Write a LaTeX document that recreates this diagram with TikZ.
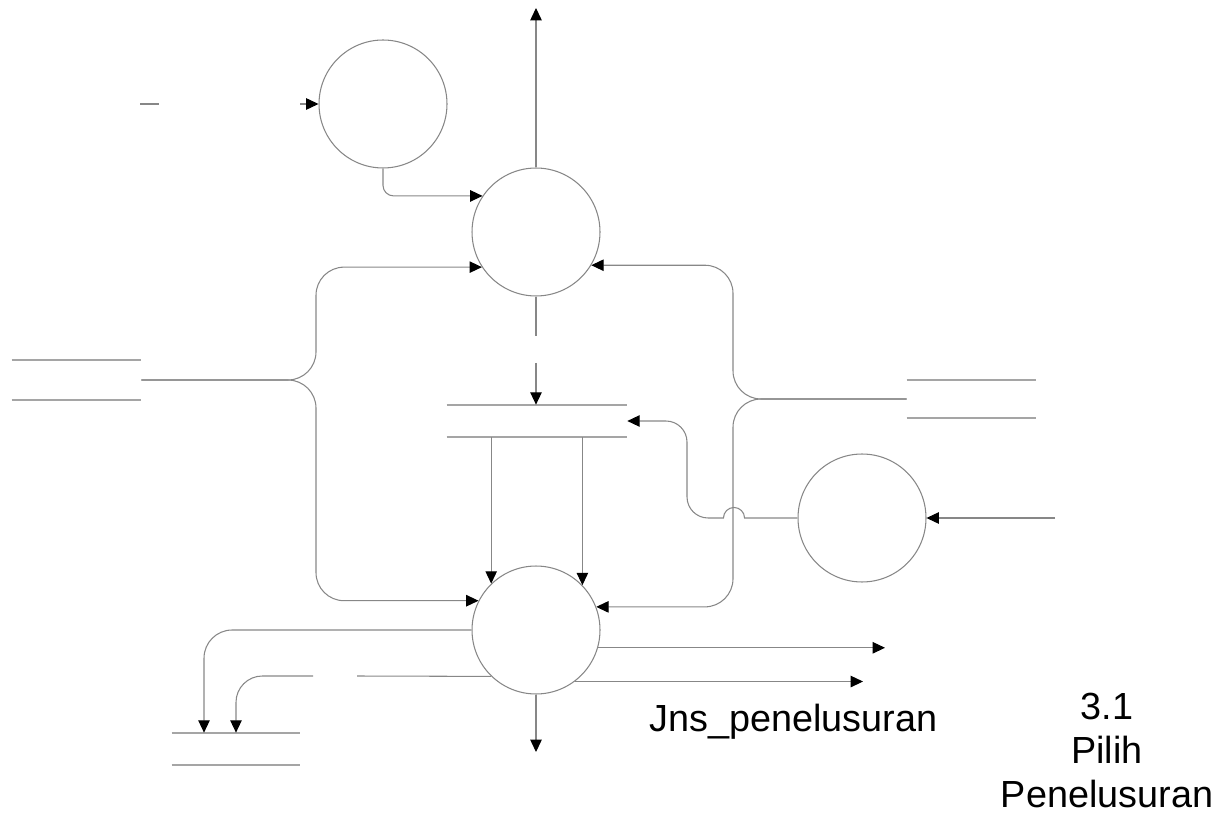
\documentclass[tikz,border=0pt]{standalone}
\usepackage{fontspec}
\setmainfont{Liberation Sans}
\usepackage{tikz}
\usetikzlibrary{arrows.meta, positioning}
\definecolor{linegray}{RGB}{135,135,135}
\definecolor{storegray}{RGB}{165,165,165}

\tikzset{
  proc/.style={circle, draw=linegray, line width=0.6pt, minimum size=2.56cm, inner sep=0pt},
  storeline/.style={draw=storegray, line width=1pt},
  store/.style={rectangle, inner sep=0pt, minimum width=2.58cm,
    append after command={(\tikzlastnode.north west) edge[storeline] (\tikzlastnode.north east)
                          (\tikzlastnode.south west) edge[storeline] (\tikzlastnode.south east)}},
  link/.style={draw=linegray, line width=0.6pt},
  flow/.style={link, -{Triangle[length=7pt, width=6.5pt, color=black]}},
  lbl/.style={inner sep=0pt, font=\fontsize{21.5}{24.9}\selectfont}
}

\begin{document}
\begin{tikzpicture}[x=0.02cm, y=-0.02cm]
\useasboundingbox (0,0) rectangle (1216,837);

% processes
\node[proc] (pCari)   at (383,104) {};
\node[proc] (pPilih)  at (536,232) {};
\node[proc] (pProses) at (536,630) {};
\node[proc] (pTampil) at (862,518) {};

% data stores
\node[store, minimum height=0.78cm] (dsAnggota) at (76.5,380) {};
\node[store, minimum height=0.76cm] (dsBuku)    at (971.5,399) {};
\node[store, minimum width=3.6cm, minimum height=0.64cm] (dsJenis) at (537,421) {};
\node[store, minimum width=2.56cm, minimum height=0.64cm] (dsLog)  at (236,749) {};

% labels
\node[lbl, anchor=base west] (lblJenis) at (649,731) {Jns\_penelusuran};
\node[lbl, align=center, anchor=north] (lblPilih) at (1107,693) {3.1\\Pilih\\Penelusuran};

% free ends and bends
\coordinate (dashA)   at (140,104);
\coordinate (dashB)   at (159,104);
\coordinate (inCari)  at (300,104);
\coordinate (outTop)  at (536,8);
\coordinate (braceL)  at (316,380);
\coordinate (braceR)  at (733,399);
\coordinate (gapA)    at (536,336);
\coordinate (gapB)    at (536,363);
\coordinate (hop)     at (734,518);
\coordinate (bendS)   at (687,518);
\coordinate (inTampil) at (1055,518);
\coordinate (outA)    at (885,648);
\coordinate (outB)    at (863,681);
\coordinate (outC)    at (536,752);
\coordinate (gapC)    at (357,676);
\coordinate (gapD)    at (313,676);

% top left
\draw[link] (dashA) -- (dashB);
\draw[flow] (inCari) -- (pCari.west);
\draw[flow, rounded corners=6pt] (pCari.south) |- (pPilih.146);
\draw[flow] (pPilih.north) -- (outTop);

% left store feeds both processes
\draw[flow, rounded corners=16pt] (dsAnggota.east) -| (braceL |- pPilih.213) -- (pPilih.213);
\draw[flow, rounded corners=16pt] (dsAnggota.east) -| (braceL |- pProses.153) -- (pProses.153);

% right store feeds both processes
\draw[flow, rounded corners=16pt] (dsBuku.west) -| (braceR |- pPilih.329) -- (pPilih.329);
\draw[flow, rounded corners=16pt] (dsBuku.west) -| (braceR |- pProses.21) -- (pProses.21);

% middle store
\draw[link] (pPilih.south) -- (gapA);
\draw[flow] (gapB) -- (gapB |- dsJenis.north);
\draw[flow] (pProses.134 |- dsJenis.south) -- (pProses.134);
\draw[flow] (pProses.44 |- dsJenis.south) -- (pProses.44);

% right process back to the middle store, hopping over the brace line
\draw[flow] (pTampil.west) -- ([xshift=6pt]hop) arc[start angle=0, end angle=180, radius=6pt]
  -- (713,518) [rounded corners=12pt] -- (bendS) -- (bendS |- dsJenis.east) -- (dsJenis.east);
\draw[flow] (inTampil) -- (pTampil.east);

% lower process outputs
\draw[flow, rounded corners=16pt] (pProses.west) -| ([xshift=-0.64cm]dsLog.north);
\draw[link] (pProses.226) -- (gapC);
\draw[flow, rounded corners=15pt] (gapD) -| (dsLog.north);
\draw[flow] (pProses.344) -- (pProses.344 -| outA);
\draw[flow] (pProses.307) -- (pProses.307 -| outB);
\draw[flow] (pProses.south) -- (outC);

\end{tikzpicture}
\end{document}
